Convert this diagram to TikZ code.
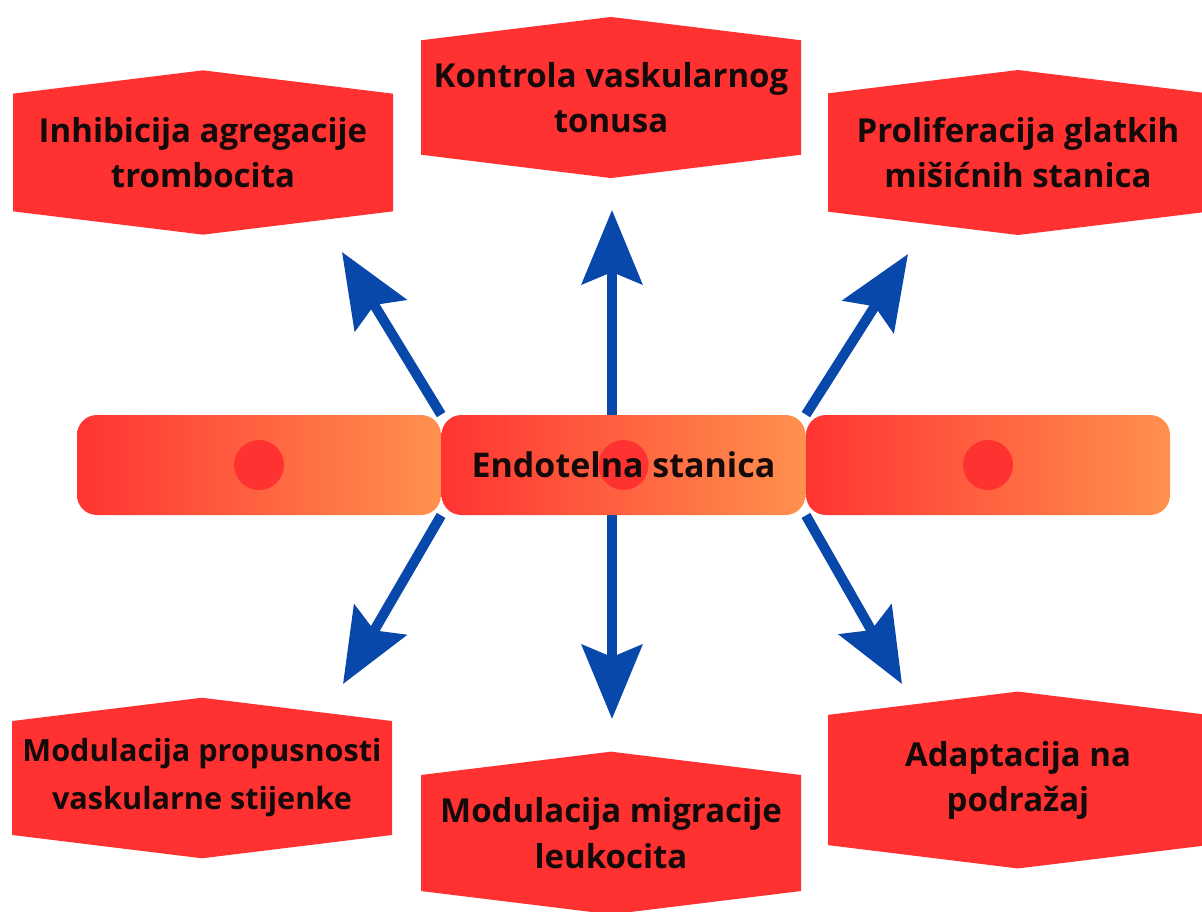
\documentclass[tikz,border=0pt]{standalone}
\usepackage{fontspec}
\setmainfont{Open Sans}
\usetikzlibrary{arrows.meta,shapes.symbols}
\pgfdeclarelayer{background}
\pgfsetlayers{background,main}
\definecolor{hexred}{RGB}{255,49,49}
\definecolor{cellred}{RGB}{255,52,50}
\definecolor{cellorange}{RGB}{255,145,78}
\definecolor{nucred}{RGB}{255,50,50}
\definecolor{arrowblue}{RGB}{8,72,170}
\definecolor{textblack}{RGB}{20,10,10}
\tikzset{
  hexbox/.style={shape=signal, signal to=north and south, signal pointer angle=166,
    fill=hexred, minimum width=190pt, minimum height=79pt, inner sep=0pt,
    align=center, text=textblack, font=\fontsize{16.5}{22.5}\selectfont\bfseries},
  cell/.style={rounded corners=10pt, left color=cellred, right color=cellorange,
    minimum width=182pt, minimum height=50pt, inner sep=0pt,
    text=textblack, font=\fontsize{17}{20}\selectfont\bfseries,
    path picture={\fill[nucred] (path picture bounding box.center) circle (12.5pt);}},
  arr/.style={draw=arrowblue, line width=5pt, -{Stealth[length=37pt,width=30pt,inset=6pt]}}
}
\begin{document}
\begin{tikzpicture}[x=0.5pt,y=-0.5pt]
\useasboundingbox (0,0) rectangle (1202,911);
% function boxes
\node [hexbox] (inhib) at (203,152.5) {Inhibicija agregacije\\trombocita};
\node [hexbox] (kontrola) at (611,97.5) {Kontrola vaskularnog\\tonusa};
\node [hexbox] (prolif) at (1018,152.5) {Proliferacija glatkih\\mišićnih stanica};
\node [hexbox, font=\fontsize{15.3}{24}\selectfont\bfseries] (propus) at (202,778) {Modulacija propusnosti\\vaskularne stijenke};
\node [hexbox, font=\fontsize{16.5}{23}\selectfont\bfseries] (migra) at (611,833) {Modulacija migracije\\leukocita};
\node [hexbox, font=\fontsize{16.5}{22.5}\selectfont\bfseries] (adapt) at (1018,780) {Adaptacija na\\podražaj};
% endothelial cells
\node [cell] (cellL) at (259,465) {};
\node [cell] (endo) at (623.5,465) {Endotelna stanica};
\node [cell] (cellR) at (988,465) {};
% arrow tips
\coordinate (tipUL) at (342,252);
\coordinate (tipUC) at (612,210);
\coordinate (tipUR) at (908,254);
\coordinate (tipLL) at (343,684);
\coordinate (tipLC) at (612,719);
\coordinate (tipLR) at (902,684);
\begin{pgfonlayer}{background}
\draw [arr] (endo.north west) -- (tipUL);
\draw [arr] (endo.north -| tipUC) -- (tipUC);
\draw [arr] (endo.north east) -- (tipUR);
\draw [arr] (endo.south west) -- (tipLL);
\draw [arr] (endo.south -| tipLC) -- (tipLC);
\draw [arr] (endo.south east) -- (tipLR);
\end{pgfonlayer}
\end{tikzpicture}
\end{document}
